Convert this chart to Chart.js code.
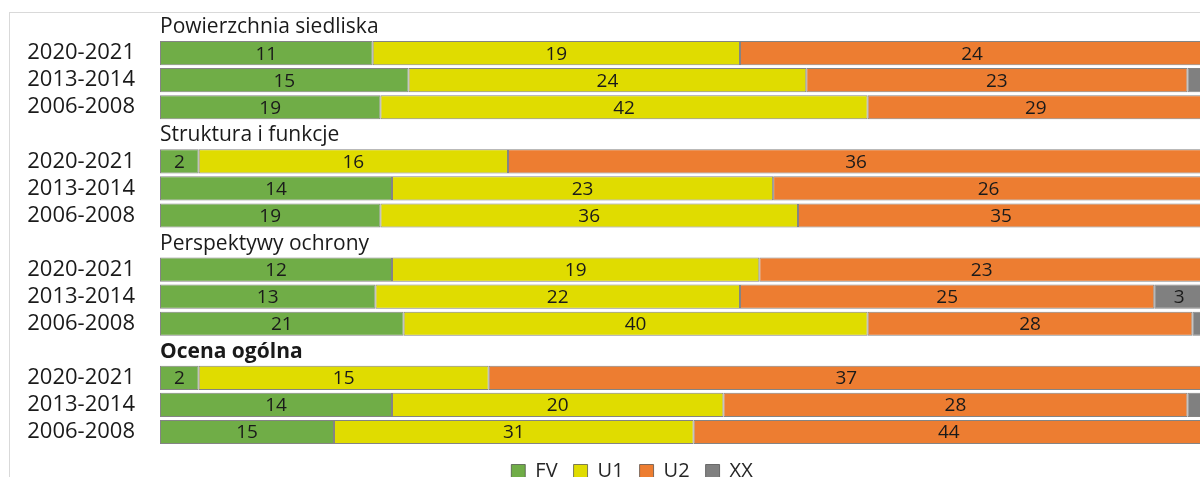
<!DOCTYPE html>
<html>
<head>
<meta charset="utf-8">
<script src="https://cdn.jsdelivr.net/npm/chart.js@4.4.1/dist/chart.umd.min.js"></script>
<style>
  html, body { margin: 0; padding: 0; background: #fff; overflow: hidden; width: 1200px; height: 477px; }
  #frame { position: absolute; left: 9px; top: 12px; width: 1300px; height: 600px;
           border-left: 1px solid #d9d9d9; border-top: 1px solid #d9d9d9; }
  #wrap { position: absolute; left: 0; top: 0; width: 1215px; height: 477px; }
</style>
</head>
<body>
<div id="frame"></div>
<div id="wrap"><canvas id="chart"></canvas></div>
<script>
// grupy ocen i okresy raportowania
const groups = ["Powierzchnia siedliska", "Struktura i funkcje", "Perspektywy ochrony", "Ocena ogólna"];
const periods = ["2020-2021", "2013-2014", "2006-2008"];

// liczba siedlisk w kolejnych wierszach (grupa x okres)
const fv = [11, 15, 19,  2, 14, 19, 12, 13, 21,  2, 14, 15];
const u1 = [19, 24, 42, 16, 23, 36, 19, 22, 40, 15, 20, 31];
const u2 = [24, 23, 29, 36, 26, 35, 23, 25, 28, 37, 28, 44];
const xx = [ 0,  1,  0,  0,  0,  0,  0,  3,  1,  0,  1,  0];

const seriesNames = ["FV", "U1", "U2", "XX"];
const seriesColors = ["#70ad47", "#e0dc00", "#ed7d31", "#808080"];
const FONT = "'Open Sans', sans-serif";

// wiersze osi: naglowek grupy + trzy okresy
const labels = [];
const headerRows = [];
const rowOf = [];
groups.forEach(g => {
  headerRows.push(labels.length);
  labels.push("");
  periods.forEach(p => {
    rowOf.push(labels.length);
    labels.push(p);
  });
});

const counts = [fv, u1, u2, xx];
const totals = fv.map((v, i) => v + u1[i] + u2[i] + xx[i]);

function toRows(arr, pct) {
  const out = labels.map(() => null);
  arr.forEach((v, i) => { out[rowOf[i]] = pct ? v / totals[i] * 100 : v; });
  return out;
}

const datasets = counts.map((arr, k) => ({
  label: seriesNames[k],
  data: toRows(arr, true),
  counts: toRows(arr, false),
  backgroundColor: seriesColors[k],
  borderColor: "rgba(50,50,50,0.6)",
  borderWidth: 1,
  borderSkipped: false,
  barPercentage: 0.89,
  categoryPercentage: 1
}));

const labelPlugin = {
  id: "segLabels",
  afterLayout(chart) {
    // legenda wysrodkowana troche w prawo, jak w oryginale
    chart.legend.left += 30;
    chart.legend.right += 30;
  },
  afterDatasetsDraw(chart) {
    const ctx = chart.ctx;
    ctx.save();
    ctx.font = "19px " + FONT;
    ctx.fillStyle = "#1a1a1a";
    ctx.textAlign = "center";
    ctx.textBaseline = "middle";
    chart.data.datasets.forEach((ds, di) => {
      chart.getDatasetMeta(di).data.forEach((el, i) => {
        const c = ds.counts[i];
        if (!c || Math.abs(el.x - el.base) < 22) return;
        ctx.fillText(String(c), (el.x + el.base) / 2, el.y + 1);
      });
    });
    // naglowki grup
    const y = chart.scales.y;
    ctx.textAlign = "left";
    headerRows.forEach((r, gi) => {
      ctx.font = (gi === groups.length - 1 ? "bold " : "") + "21px " + FONT;
      ctx.fillText(groups[gi], chart.chartArea.left, y.getPixelForValue(r) + 1);
    });
    ctx.restore();
  }
};

new Chart(document.getElementById("chart"), {
  type: "bar",
  data: { labels: labels, datasets: datasets },
  options: {
    indexAxis: "y",
    responsive: true,
    maintainAspectRatio: false,
    animation: false,
    layout: { padding: { top: 12.5, left: 0, right: 11, bottom: 0 } },
    scales: {
      x: { stacked: true, min: 0, max: 100, display: false },
      y: {
        stacked: true,
        grid: { display: false, drawTicks: false },
        border: { display: false },
        ticks: { padding: 25, color: "#1a1a1a", font: { family: FONT, size: 22 }, autoSkip: false },
        afterFit: s => { s.width = 160; s.paddingTop = 0; s.paddingBottom = 0; }
      }
    },
    plugins: {
      tooltip: { enabled: false },
      legend: {
        position: "bottom",
        maxHeight: 31.5,
        labels: {
          boxWidth: 14, boxHeight: 14, padding: 16,
          color: "#262626",
          font: { family: FONT, size: 20 }
        }
      }
    }
  },
  plugins: [labelPlugin]
});
</script>
</body>
</html>
